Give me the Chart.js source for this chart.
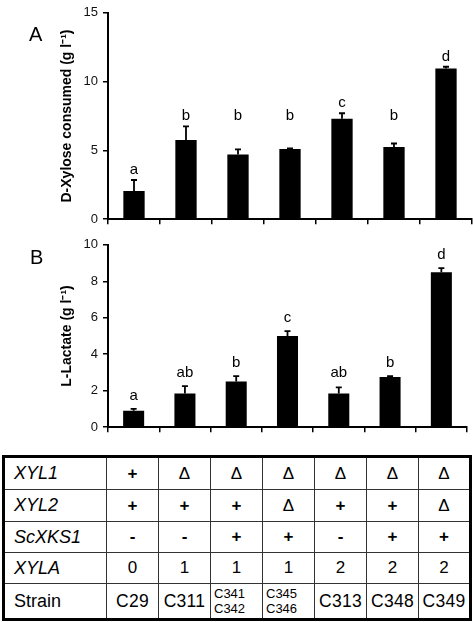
<!DOCTYPE html>
<html>
<head>
<meta charset="utf-8">
<script src="https://cdn.jsdelivr.net/npm/chart.js@4.4.1/dist/chart.umd.min.js"></script>
<style>
  html, body { margin:0; padding:0; background:#fff; }
  body { width:473px; height:622px; position:relative; overflow:hidden; font-family:"Liberation Sans", Arial, sans-serif; }
  canvas { position:absolute; left:0; }
  #cA { top:0; }
  #cB { top:232px; }
  .panel { position:absolute; font-size:20px; line-height:20px; color:#000; }
  table { position:absolute; left:2px; top:455px; width:467px; border-collapse:collapse; table-layout:fixed; border:3px solid #000; }
  td { border:1px solid #333; padding:0; text-align:center; vertical-align:middle; font-size:17px; color:#000; }
  td.lab { text-align:left; padding-left:9px; font-style:italic; font-size:18px; }
  td.lab.plain { font-style:normal; }
  td.sym { font-weight:bold; font-size:17px; }
  td.delta { font-weight:normal; font-size:17px; }
  td.two { font-size:13px; line-height:15px; text-align:left; padding-left:3px; }
  td.one { font-size:17.5px; letter-spacing:0.3px; }
</style>
</head>
<body>
<canvas id="cA" width="473" height="232"></canvas>
<canvas id="cB" width="473" height="208"></canvas>
<div class="panel" style="left:29px; top:24px;">A</div>
<div class="panel" style="left:30px; top:247px;">B</div>
<table id="tbl"></table>
<script>
// ---- data ----
const strains = ['C29', 'C311', 'C341\nC342', 'C345\nC346', 'C313', 'C348', 'C349'];
const xyloseConsumed = [2.05, 5.75, 4.7, 5.1, 7.3, 5.25, 10.95];
const xyloseErr = [0.8, 1.0, 0.38, 0.05, 0.4, 0.25, 0.13];
const xyloseLetters = ['a', 'b', 'b', 'b', 'c', 'b', 'd'];
const lactate = [0.9, 1.85, 2.5, 5.0, 1.85, 2.75, 8.5];
const lactateErr = [0.1, 0.4, 0.3, 0.27, 0.33, 0.05, 0.22];
const lactateLetters = ['a', 'ab', 'b', 'c', 'ab', 'b', 'd'];
const xyloseTicks = [0, 5, 10, 15];
const lactateTicks = [0, 2, 4, 6, 8, 10];
const geneNames = ['XYL1', 'XYL2', 'ScXKS1', 'XYLA'];
const xyl1 = ['+', 'Δ', 'Δ', 'Δ', 'Δ', 'Δ', 'Δ'];
const xyl2 = ['+', '+', '+', 'Δ', '+', '+', 'Δ'];
const scxks1 = ['-', '-', '+', '+', '-', '+', '+'];
const xyla = ['0', '1', '1', '1', '2', '2', '2'];

// ---- table ----
const tbl = document.getElementById('tbl');
const colg = document.createElement('colgroup');
[103, 52, 52, 52, 52, 52, 52, 52].forEach(w => { const c = document.createElement('col'); c.style.width = w + 'px'; colg.appendChild(c); });
tbl.appendChild(colg);
const rowsData = [xyl1, xyl2, scxks1, xyla];
const rowH = [33, 32, 31, 31, 36];
rowsData.forEach((vals, r) => {
  const tr = document.createElement('tr');
  tr.style.height = rowH[r] + 'px';
  const th = document.createElement('td'); th.className = 'lab'; th.textContent = geneNames[r]; tr.appendChild(th);
  vals.forEach(v => {
    const td = document.createElement('td');
    if (v === 'Δ') td.className = 'delta'; else if (r < 3) td.className = 'sym';
    td.textContent = v; tr.appendChild(td);
  });
  tbl.appendChild(tr);
});
{
  const tr = document.createElement('tr'); tr.style.height = rowH[4] + 'px';
  const th = document.createElement('td'); th.className = 'lab plain'; th.textContent = 'Strain'; tr.appendChild(th);
  strains.forEach(s => {
    const td = document.createElement('td');
    const parts = s.split('\n');
    if (parts.length > 1) { td.className = 'two'; td.innerHTML = parts.join('<br>'); }
    else { td.className = 'one'; td.textContent = s; }
    tr.appendChild(td);
  });
  tbl.appendChild(tr);
}

// ---- error bars + letters plugin ----
const errPlugin = {
  id: 'errLetters',
  afterDatasetsDraw(chart, args, opts) {
    const ctx = chart.ctx, y = chart.scales.y;
    const meta = chart.getDatasetMeta(0);
    const vals = chart.data.datasets[0].data;
    const tops = vals.map((v, i) => v + opts.err[i]);
    ctx.save();
    ctx.strokeStyle = '#000'; ctx.lineWidth = 1.8;
    meta.data.forEach((el, i) => {
      const yt = y.getPixelForValue(tops[i]);
      ctx.beginPath(); ctx.moveTo(el.x, el.y); ctx.lineTo(el.x, yt);
      ctx.moveTo(el.x - 3, yt); ctx.lineTo(el.x + 3, yt); ctx.stroke();
    });
    // letters: placed above the highest error-bar top among bars sharing the same letter
    ctx.fillStyle = '#000'; ctx.font = '15px "Liberation Sans", Arial, sans-serif';
    ctx.textAlign = 'center'; ctx.textBaseline = 'alphabetic';
    meta.data.forEach((el, i) => {
      const L = opts.letters[i];
      let m = 0; opts.letters.forEach((l, j) => { if (l === L) m = Math.max(m, tops[j]); });
      ctx.fillText(L, el.x, y.getPixelForValue(m) - opts.gap);
    });
    ctx.restore();
  }
};

function makeChart(id, values, errs, letters, ticks, title, padRight, padTop, xH, gap) {
  return new Chart(document.getElementById(id), {
    type: 'bar',
    data: { labels: strains, datasets: [{ data: values, backgroundColor: '#000', borderWidth: 0,
      barPercentage: 0.41, categoryPercentage: 1 }] },
    options: {
      responsive: false, animation: false, devicePixelRatio: 1,
      layout: { padding: { left: 0, right: padRight, top: padTop, bottom: 0 } },
      plugins: { legend: { display: false }, tooltip: { enabled: false },
        errLetters: { err: errs, letters: letters, gap: gap } },
      scales: {
        x: {
          ticks: { display: false },
          grid: { drawOnChartArea: false, drawTicks: true, tickLength: 5, color: '#000', lineWidth: 1.5, offset: true },
          border: { display: true, color: '#000', width: 2 },
          afterFit: s => { s.height = xH; }
        },
        y: {
          min: ticks[0], max: ticks[ticks.length - 1],
          afterBuildTicks: s => { s.ticks = ticks.map(v => ({ value: v })); },
          ticks: { color: '#111', font: { family: '"Liberation Sans", Arial, sans-serif', size: 13 }, padding: 5 },
          grid: { drawOnChartArea: false, drawTicks: true, tickLength: 5, color: '#000', lineWidth: 1.5 },
          border: { display: true, color: '#000', width: 2 },
          title: { display: true, text: title, color: '#000',
            font: { family: '"Liberation Sans", Arial, sans-serif', size: 14, weight: 'bold' },
            padding: { top: 59, bottom: 0 } },
          afterFit: s => { s.width = 108; }
        }
      }
    },
    plugins: [errPlugin]
  });
}

makeChart('cA', xyloseConsumed, xyloseErr, xyloseLetters, xyloseTicks, 'D-Xylose consumed (g l\u207B\u00B9)', 1, 4.5, 10, 6);
makeChart('cB', lactate, lactateErr, lactateLetters, lactateTicks, 'L-Lactate (g l\u207B\u00B9)', 6, 3, 12, 9);
</script>
</body>
</html>
